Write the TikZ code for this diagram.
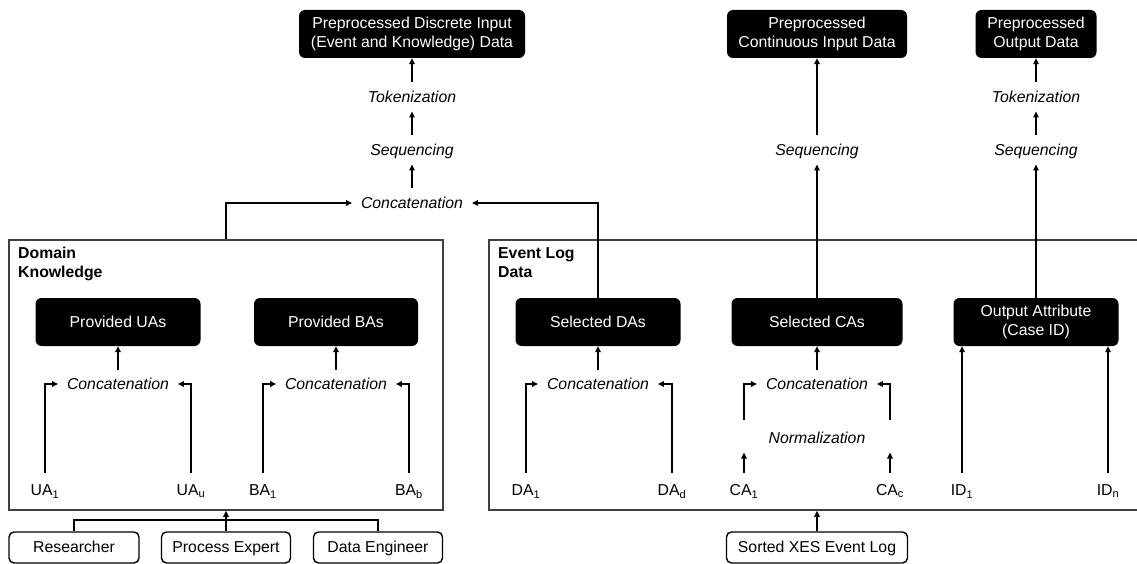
\documentclass[tikz,border=0pt]{standalone}
\usepackage{fontspec}
\setmainfont{Liberation Sans}
\usetikzlibrary{arrows.meta}
\newcommand\fs{\fontsize{15.8}{19}\selectfont}
\begin{document}
\begin{tikzpicture}[x=1pt,y=-1pt,
 blk/.style={fill=black, text=white, rounded corners=6pt, inner sep=0pt, minimum height=48pt, align=center, font=\fs},
 proc/.style={font=\fs\itshape, inner sep=0pt, outer sep=9pt, text height=11pt, text depth=0pt},
 lab/.style={font=\fs, inner sep=0pt, outer sep=12pt, text height=11pt, text depth=0pt},
 wbox/.style={draw=black, line width=1.4pt, rounded corners=5pt, fill=white, inner sep=0pt, minimum height=31pt, text height=11pt, text depth=1pt, font=\fs},
 grp/.style={draw=black!75, line width=1.6pt, inner sep=0pt},
 ttl/.style={font=\fs\bfseries, align=left, inner sep=0pt, anchor=north west},
 arr/.style={line width=1.7pt, -{Triangle[length=6pt,width=5.5pt]}},
 ln/.style={line width=1.7pt}]
\useasboundingbox (0,0) rectangle (1137,564);

% group boxes
\node[grp, minimum width=434pt, minimum height=270pt] (dk) at (226,375) {};
\node[grp, minimum width=662pt, minimum height=270pt] (ev) at (820,375) {};
\node[ttl] (dkt) at (18,247) {Domain\\Knowledge};
\node[ttl] (evt) at (498,247) {Event Log\\Data};

% top boxes
\node[blk, minimum width=226pt] (pd) at (412,34) {Preprocessed Discrete Input\\(Event and Knowledge) Data};
\node[blk, minimum width=180pt] (pc) at (817,34) {Preprocessed\\Continuous Input Data};
\node[blk, minimum width=121pt] (po) at (1036,34) {Preprocessed\\Output Data};

% top process steps
\node[proc] (tok1) at (412,97) {Tokenization};
\node[proc] (seq1) at (412,150) {Sequencing};
\node[proc] (cat) at (412,203) {Concatenation};
\node[proc] (seq2) at (817,150) {Sequencing};
\node[proc] (tok3) at (1036,97) {Tokenization};
\node[proc] (seq3) at (1036,150) {Sequencing};

% inner black boxes
\node[blk, minimum width=165pt] (pua) at (118,322) {Provided UAs};
\node[blk, minimum width=164pt] (pba) at (336,322) {Provided BAs};
\node[blk, minimum width=165pt] (sda) at (598,322) {Selected DAs};
\node[blk, minimum width=171pt] (sca) at (817,322) {Selected CAs};
\node[blk, minimum width=165pt] (oa) at (1036,322) {Output Attribute\\(Case ID)};

% inner process steps
\node[proc] (c1) at (118,384) {Concatenation};
\node[proc] (c2) at (336,384) {Concatenation};
\node[proc] (c3) at (598,384) {Concatenation};
\node[proc] (c4) at (817,384) {Concatenation};
\node[proc] (norm) at (817,438) {Normalization};

% attribute labels
\node[lab] (ua1) at (45,490) {UA\textsubscript{1}};
\node[lab] (uau) at (191,490) {UA\textsubscript{u}};
\node[lab] (ba1) at (263,490) {BA\textsubscript{1}};
\node[lab] (bab) at (409,490) {BA\textsubscript{b}};
\node[lab] (da1) at (526,490) {DA\textsubscript{1}};
\node[lab] (dad) at (672,490) {DA\textsubscript{d}};
\node[lab] (ca1) at (744,490) {CA\textsubscript{1}};
\node[lab] (cac) at (890,490) {CA\textsubscript{c}};
\node[lab] (id1) at (962,490) {ID\textsubscript{1}};
\node[lab] (idn) at (1108,490) {ID\textsubscript{n}};

% bottom sources
\node[wbox, minimum width=130pt] (res) at (74,547.5) {Researcher};
\node[wbox, minimum width=129pt] (pe) at (226,547.5) {Process Expert};
\node[wbox, minimum width=129pt] (de) at (378,547.5) {Data Engineer};
\node[wbox, minimum width=181pt] (xes) at (817,547.5) {Sorted XES Event Log};

\coordinate (n1) at (744,420);
\coordinate (n2) at (890,420);

% connectors: top
\draw[arr] (tok1.north) -- (pd.south);
\draw[arr] (seq1.north) -- (tok1.south);
\draw[arr] (cat.north) -- (seq1.south);
\draw[arr] (dk.north) |- (cat.west);
\draw[arr] (sda.north) |- (cat.east);
\draw[arr] (sca.north) -- (sca.north |- seq2.south);
\draw[arr] (seq2.north) -- (seq2.north |- pc.south);
\draw[arr] (oa.north) -- (oa.north |- seq3.south);
\draw[arr] (seq3.north) -- (tok3.south);
\draw[arr] (tok3.north) -- (tok3.north |- po.south);

% connectors: domain knowledge
\draw[arr] (c1.north) -- (c1.north |- pua.south);
\draw[arr] (c2.north) -- (c2.north |- pba.south);
\draw[arr] (ua1.north) |- (c1.west);
\draw[arr] (uau.north) |- (c1.east);
\draw[arr] (ba1.north) |- (c2.west);
\draw[arr] (bab.north) |- (c2.east);

% connectors: event log
\draw[arr] (c3.north) -- (c3.north |- sda.south);
\draw[arr] (c4.north) -- (c4.north |- sca.south);
\draw[arr] (da1.north) |- (c3.west);
\draw[arr] (dad.north) |- (c3.east);
\draw[arr] (n1) |- (c4.west);
\draw[arr] (n2) |- (c4.east);
\draw[arr] (ca1.north) -- (ca1.north |- norm.south);
\draw[arr] (cac.north) -- (cac.north |- norm.south);
\draw[arr] (id1.north) -- (id1.north |- oa.south);
\draw[arr] (idn.north) -- (idn.north |- oa.south);

% connectors: sources
\draw[ln] (res.north) -- ([yshift=11pt]res.north) -| (de.north);
\draw[arr] (pe.north) -- (pe.north |- dk.south);
\draw[arr] (xes.north) -- (xes.north |- ev.south);
\end{tikzpicture}
\end{document}
